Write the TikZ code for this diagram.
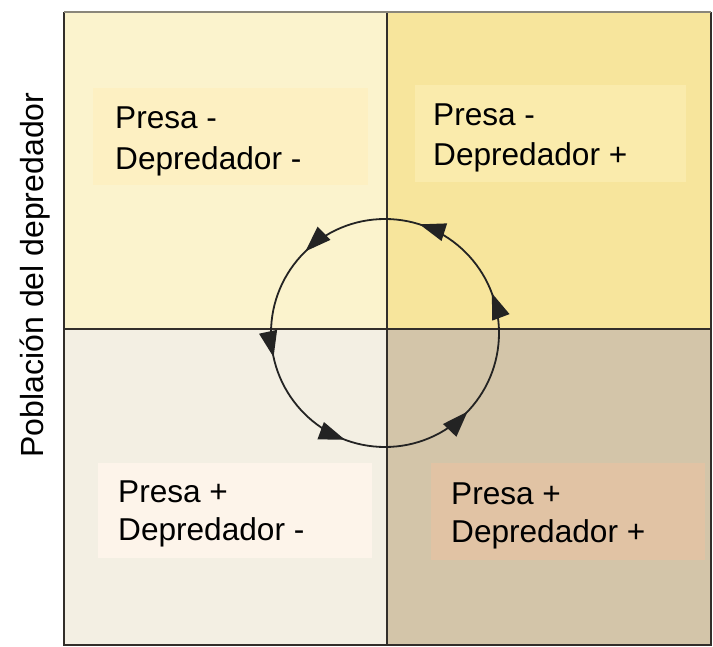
\documentclass[tikz,border=0pt]{standalone}
\usepackage{fontspec}
\setmainfont{Liberation Sans}
\usetikzlibrary{arrows.meta,decorations.markings}
\definecolor{qtl}{RGB}{251,243,205}
\definecolor{qtr}{RGB}{247,229,156}
\definecolor{qbl}{RGB}{243,239,227}
\definecolor{qbr}{RGB}{211,197,169}
\definecolor{btl}{RGB}{253,240,194}
\definecolor{btr}{RGB}{250,235,172}
\definecolor{bbl}{RGB}{253,244,234}
\definecolor{bbr}{RGB}{225,195,164}
\definecolor{frame}{RGB}{50,46,42}
\definecolor{frametop}{RGB}{138,134,122}
\definecolor{cyc}{RGB}{35,35,35}
\tikzset{
  txt/.style={inner sep=0pt, anchor=base west, font=\fontsize{31.6}{38}\selectfont},
  tbox/.style={draw=none, inner sep=0pt, anchor=north west},
  divider/.style={draw=frame, line width=2.8pt},
  cycle/.style={draw=cyc, line width=1.8pt,
    postaction={decorate},
    decoration={markings,
      mark=at position 0.057 with {\arrow{Triangle[length=26pt,width=18pt]}},
      mark=at position 0.201 with {\arrow{Triangle[length=26pt,width=18pt]}},
      mark=at position 0.373 with {\arrow{Triangle[length=26pt,width=18pt]}},
      mark=at position 0.534 with {\arrow{Triangle[length=26pt,width=18pt]}},
      mark=at position 0.693 with {\arrow{Triangle[length=26pt,width=18pt]}},
      mark=at position 0.879 with {\arrow{Triangle[length=26pt,width=18pt]}}}}
}
\begin{document}
\begin{tikzpicture}[x=1pt,y=-1pt]
\useasboundingbox (0,0) rectangle (713,647);
% quadrants
\fill[qtl] (64,12) rectangle (387,329);
\fill[qtr] (387,12) rectangle (711,329);
\fill[qbl] (64,329) rectangle (387,645);
\fill[qbr] (387,329) rectangle (711,645);
% label boxes
\node[tbox, fill=btl, minimum width=275pt, minimum height=97pt] (tlbox) at (93,88) {};
\node[tbox, fill=btr, minimum width=271pt, minimum height=97pt] (trbox) at (415,85) {};
\node[tbox, fill=bbl, minimum width=274pt, minimum height=95pt] (blbox) at (98,463) {};
\node[tbox, fill=bbr, minimum width=274pt, minimum height=97pt] (brbox) at (431,463) {};
% texts
\node[txt] (tl1) at (115,129) {Presa -};
\node[txt] (tl2) at (115,170) {Depredador -};
\node[txt] (tr1) at (433,126) {Presa -};
\node[txt] (tr2) at (433,166) {Depredador +};
\node[txt] (bl1) at (118,502) {Presa +};
\node[txt] (bl2) at (118,540) {Depredador -};
\node[txt] (br1) at (451,504) {Presa +};
\node[txt] (br2) at (451,542) {Depredador +};
% dividers
\draw[divider] (387,12) -- (387,645);
\draw[divider] (64,329) -- (711,329);
% frame
\draw[draw=frame, line width=2.8pt] (711,12) -- (711,645) -- (64,645) -- (64,12);
\draw[draw=frametop, line width=2.8pt] (64,12) -- (711,12);
% cycle
\coordinate (c) at (385,333);
\path[cycle] (c) ++(114,0) arc[start angle=0, end angle=-360, radius=114];
% axis label
\node[rotate=90, inner sep=0pt, font=\fontsize{32}{38}\selectfont] (ylab) at (35,275) {Población del depredador};
\end{tikzpicture}
\end{document}
